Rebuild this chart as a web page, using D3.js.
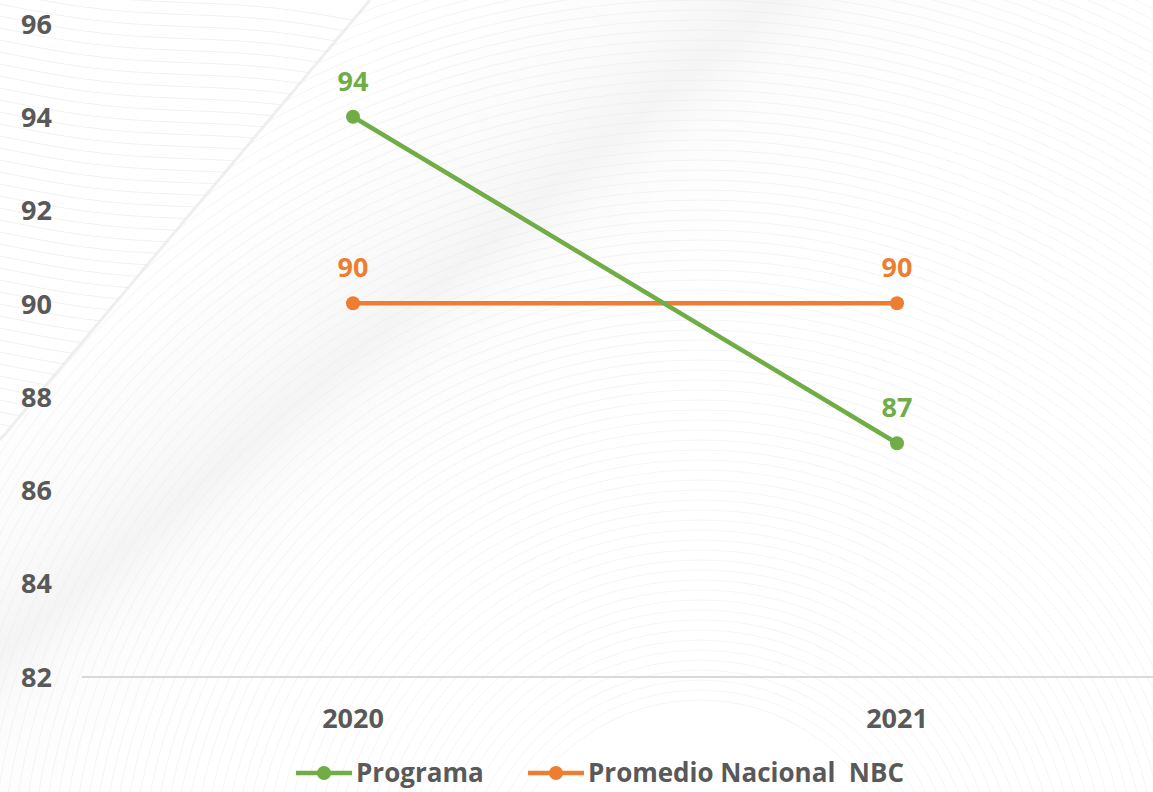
<!DOCTYPE html>
<html>
<head>
<meta charset="utf-8">
<script src="https://cdn.jsdelivr.net/npm/d3@7"></script>
<style>
  html, body { margin: 0; padding: 0; background: #ffffff; }
  svg { display: block; }
  text { font-family: "Open Sans", "DejaVu Sans", sans-serif; font-weight: 700; }
</style>
</head>
<body>
<svg id="chart" width="1153" height="792"></svg>
<script>
// ---- data ----
const categories = ["2020", "2021"];
const programa = [94, 87];
const promedioNacional = [90, 90];
const seriesNames = ["Programa", "Promedio Nacional  NBC"];
const yTicks = [82, 84, 86, 88, 90, 92, 94, 96];

const colors = { programa: "#70AD47", promedio: "#ED7D31", text: "#595959", axis: "#D9D9D9" };

const W = 1153, H = 792;
const svg = d3.select("#chart");

// ---- faint background texture ----
const bg = svg.append("g").attr("class", "background");
const defs = svg.append("defs");
const grad = defs.append("linearGradient").attr("id", "band")
  .attr("gradientUnits", "userSpaceOnUse")
  .attr("x1", 230).attr("y1", 140).attr("x2", 560).attr("y2", 530);
grad.append("stop").attr("offset", "0%").attr("stop-color", "#ffffff").attr("stop-opacity", 0);
grad.append("stop").attr("offset", "35%").attr("stop-color", "#ececec").attr("stop-opacity", 0.5);
grad.append("stop").attr("offset", "48%").attr("stop-color", "#e6e6e6").attr("stop-opacity", 0.75);
grad.append("stop").attr("offset", "62%").attr("stop-color", "#f2f2f2").attr("stop-opacity", 0.3);
grad.append("stop").attr("offset", "100%").attr("stop-color", "#ffffff").attr("stop-opacity", 0);
bg.append("rect").attr("width", W).attr("height", H).attr("fill", "url(#band)").attr("opacity", 0.55);

defs.append("clipPath").attr("id", "rightOfEdge")
  .append("path").attr("d", `M370,0 L${W},0 L${W},${H} L0,${H} L0,440 Z`);
defs.append("clipPath").attr("id", "leftOfEdge")
  .append("path").attr("d", `M0,0 L370,0 L0,440 Z`);

const rings = d3.range(200, 1500, 10);
bg.append("g").attr("clip-path", "url(#rightOfEdge)")
  .selectAll("circle").data(rings).join("circle")
  .attr("cx", 700).attr("cy", 900).attr("r", d => d)
  .attr("fill", "none").attr("stroke", "#e8e8e8").attr("stroke-width", 1).attr("opacity", 0.45);
const waves = d3.range(-20, 460, 12);
const waveLine = d3.line().curve(d3.curveBasis);
bg.append("g").attr("clip-path", "url(#leftOfEdge)")
  .selectAll("path").data(waves).join("path")
  .attr("d", k => waveLine(d3.range(0, 420, 20).map(x => [x, k + x * 0.12 + 5 * Math.sin(x / 60)])))
  .attr("fill", "none").attr("stroke", "#e8e8e8").attr("stroke-width", 1).attr("opacity", 0.6);
bg.append("line").attr("x1", 370).attr("y1", 0).attr("x2", 0).attr("y2", 440)
  .attr("stroke", "#e6e6e6").attr("stroke-width", 3).attr("opacity", 0.6);

// ---- scales ----
const x = d3.scaleBand().domain(categories).range([81, 1169]);
const cx = d => x(d) + x.bandwidth() / 2;
const y = d3.scaleLinear().domain([82, 96]).range([676.5, 23.4]);

// ---- axes ----
const yAxis = d3.axisLeft(y).tickValues(yTicks).tickSize(0).tickPadding(0);
const gy = svg.append("g").attr("transform", "translate(52,0)").call(yAxis);
gy.select(".domain").remove();
gy.selectAll("text").attr("fill", colors.text).style("font-size", "27px")
  .attr("dy", "0.36em").attr("text-anchor", "end");

const xAxis = d3.axisBottom(x).tickSize(0).tickPadding(0);
const gx = svg.append("g").attr("transform", `translate(0,${y(82)})`).call(xAxis);
gx.select(".domain").attr("stroke", colors.axis).attr("stroke-width", 2);
gx.selectAll("text").attr("fill", colors.text).style("font-size", "27px")
  .attr("y", 0).attr("dy", "51px");

// ---- lines ----
const series = [
  { name: seriesNames[0], values: programa, color: colors.programa },
  { name: seriesNames[1], values: promedioNacional, color: colors.promedio }
];
const line = d3.line().x(d => cx(d.cat)).y(d => y(d.v));

series.slice().reverse().forEach(s => {
  const pts = categories.map((c, i) => ({ cat: c, v: s.values[i] }));
  const g = svg.append("g");
  g.append("path").datum(pts).attr("d", line)
    .attr("fill", "none").attr("stroke", s.color).attr("stroke-width", 4.5).attr("stroke-linecap", "round");
  g.selectAll("circle").data(pts).join("circle")
    .attr("cx", d => cx(d.cat)).attr("cy", d => y(d.v)).attr("r", 7).attr("fill", s.color);
  g.selectAll("text").data(pts).join("text")
    .attr("x", d => cx(d.cat)).attr("y", d => y(d.v) - 26)
    .attr("text-anchor", "middle").attr("fill", s.color).style("font-size", "27px")
    .text(d => d.v);
});

// ---- legend ----
const legend = svg.append("g");
const legendX = [296, 528];
series.forEach((s, i) => {
  const g = legend.append("g").attr("transform", `translate(${legendX[i]},773)`);
  g.append("line").attr("x1", 0).attr("x2", 56).attr("y1", 0).attr("y2", 0)
    .attr("stroke", s.color).attr("stroke-width", 4.5);
  g.append("circle").attr("cx", 28).attr("cy", 0).attr("r", 7).attr("fill", s.color);
  g.append("text").attr("x", 60).attr("y", 0).attr("dy", "0.33em")
    .attr("fill", colors.text).style("font-size", "26px").style("white-space", "pre")
    .text(s.name);
});
</script>
</body>
</html>
